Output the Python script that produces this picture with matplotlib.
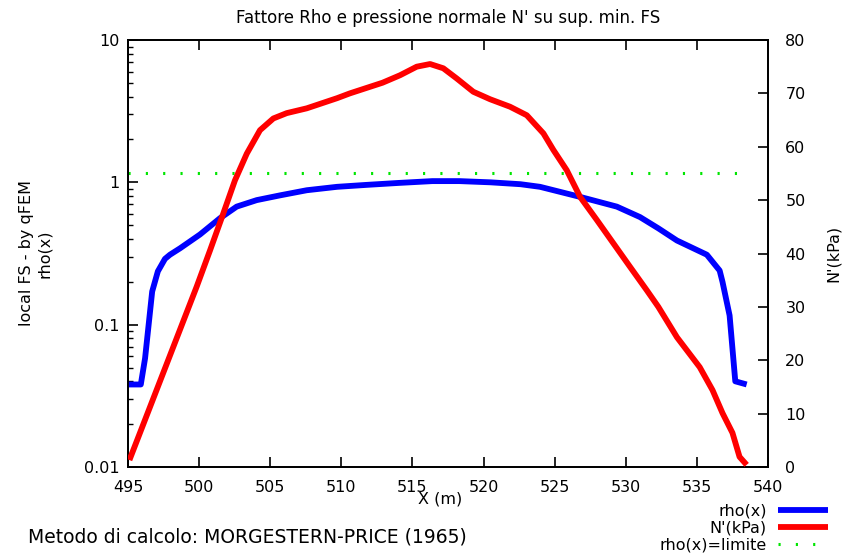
import matplotlib
matplotlib.use("Agg")
import matplotlib.pyplot as plt

# rho(x) values (left log axis)
rho_x = [495.0, 495.9, 496.2, 496.7, 497.1, 497.6, 497.95, 498.66, 500.06, 501.47, 502.64,
         504.05, 505.69, 507.57, 509.7, 511.8, 514.0, 516.4, 518.3, 520.5, 522.6, 523.97,
         526.79, 529.37, 531.0, 532.29, 533.6, 535.7, 536.6, 536.8, 537.3, 537.7, 538.5]
rho_y = [0.038, 0.038, 0.058, 0.171, 0.237, 0.29, 0.31, 0.344, 0.43, 0.56, 0.675,
         0.75, 0.81, 0.88, 0.93, 0.96, 0.99, 1.02, 1.02, 1.00, 0.97, 0.93,
         0.79, 0.675, 0.57, 0.475, 0.39, 0.31, 0.24, 0.20, 0.116, 0.040, 0.038]

# N'(kPa) values (right axis)
n_x = [495.1, 499.83, 500.77, 501.70, 502.52, 503.35, 504.28, 505.22, 506.16, 507.57,
       509.7, 510.6, 512.9, 514.13, 515.30, 516.24, 517.17, 518.11, 519.28, 520.46,
       521.86, 523.04, 524.21, 524.91, 525.85, 526.79, 527.96, 529.13, 530.30, 531.48,
       532.29, 533.6, 535.2, 536.1, 536.8, 537.5, 538.0, 538.5]
n_y = [1.3, 33.8, 40.6, 47.5, 53.7, 58.7, 63.1, 65.3, 66.3, 67.2,
       69.1, 70.0, 72.0, 73.4, 75.0, 75.5, 74.7, 72.8, 70.3, 68.9,
       67.5, 65.9, 62.5, 59.4, 55.6, 50.6, 46.3, 41.9, 37.5, 33.1,
       30.0, 24.3, 18.7, 14.4, 10.1, 6.4, 1.9, 0.4]

# limit line
lim_x = [495.0, 538.5]
lim_y = [1.17, 1.17]

x_ticks = [495, 500, 505, 510, 515, 520, 525, 530, 535, 540]
left_ticks = [0.01, 0.1, 1, 10]
left_labels = ["0.01", "0.1", "1", "10"]
right_ticks = [0, 10, 20, 30, 40, 50, 60, 70, 80]

fig = plt.figure(figsize=(8.54, 5.57), dpi=100)
ax1 = fig.add_axes([128/854, 1-467/557, 640/854, 427/557])
ax2 = ax1.twinx()

blue = "#0000ff"
red = "#ff0000"
green = "#00e600"

l1, = ax1.plot(rho_x, rho_y, color=blue, lw=4.2, solid_joinstyle="round",
               solid_capstyle="butt", zorder=3)
l3, = ax1.plot(lim_x, lim_y, color=green, lw=2.2, linestyle=(0, (0.7, 4.97)), zorder=2)
l2, = ax2.plot(n_x, n_y, color=red, lw=4.2, solid_joinstyle="round",
               solid_capstyle="butt", zorder=3)

ax1.set_yscale("log")
ax1.set_xlim(495, 540)
ax1.set_ylim(0.01, 10)
ax2.set_ylim(0, 80)
ax1.set_xticks(x_ticks)
ax1.set_yticks(left_ticks)
ax1.set_yticklabels(left_labels)
ax2.set_yticks(right_ticks)

ax1.tick_params(axis="both", which="major", direction="in", length=7, width=1.2, labelsize=11.5)
ax1.tick_params(axis="x", pad=9.5, top=True)
ax1.tick_params(axis="y", pad=6)
ax1.tick_params(axis="y", which="minor", direction="in", length=3.5, width=1.0)
ax2.tick_params(axis="y", which="major", direction="in", length=7, width=1.2,
                labelsize=11.5, pad=12.5)
for ax in (ax1, ax2):
    for s in ax.spines.values():
        s.set_linewidth(1.3)

ax1.set_ylabel("local FS - by qFEM\nrho(x)", fontsize=11.5)
ax1.yaxis.set_label_coords(-0.119, 0.5)
ax2.set_ylabel("N'(kPa)", fontsize=11.5)
ax2.yaxis.set_label_coords(1.09, 0.5)
ax1.set_xlabel("X (m)", fontsize=11.5)
ax1.xaxis.set_label_coords(0.4875, -0.058)
ax1.set_title("Fattore Rho e pressione normale N' su sup. min. FS", fontsize=12, pad=12)

fig.legend([l1, l2, l3], ["rho(x)", "N'(kPa)", "rho(x)=limite"],
           loc="upper right", bbox_to_anchor=(828/854, 1-504/557), frameon=False,
           markerfirst=False, fontsize=11.5, handlelength=3.13, labelspacing=0.1,
           borderpad=0.0, borderaxespad=0.0, handletextpad=0.69)

fig.text(28/854, 1-537/557, "Metodo di calcolo: MORGESTERN-PRICE (1965)",
         fontsize=13.5, va="center", ha="left")

fig.savefig("out.png", dpi=100)
